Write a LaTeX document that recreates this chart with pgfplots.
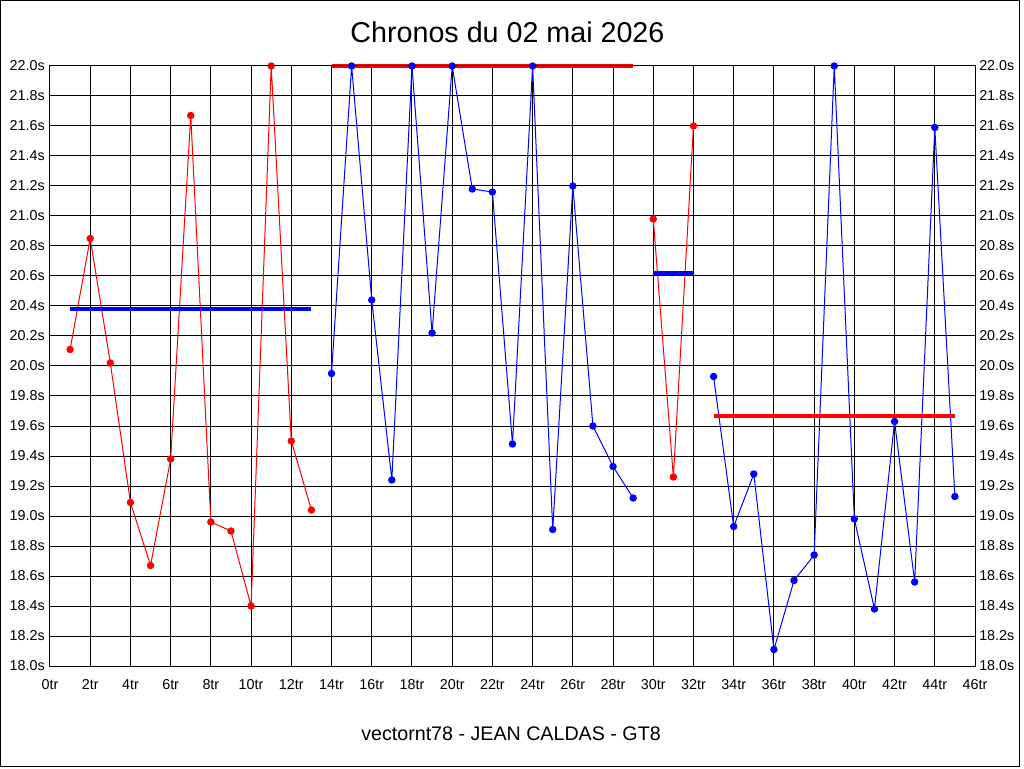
\documentclass[border=0pt]{standalone}
\usepackage{pgfplots}
\pgfplotsset{compat=1.18}
\usepackage{fontspec}
\setmainfont{Liberation Sans}
\definecolor{myred}{RGB}{255,0,0}
\definecolor{myblue}{RGB}{0,0,255}
\begin{document}
\begin{tikzpicture}
\useasboundingbox (-37.5pt,-76.5pt) rectangle (730.5pt,499.5pt);
\draw[black,line width=0.75pt] (-37.1pt,-75.4pt) rectangle (727.1pt,499.1pt);
\pgfplotsset{
  common/.style={
    scale only axis,
    width=693.75pt, height=450pt,
    xmin=0, xmax=46, ymin=18, ymax=22,
    xtick={0,2,...,46},
    ytick={18.0,18.2,...,22.01},
    yticklabels={18.0s,18.2s,18.4s,18.6s,18.8s,19.0s,19.2s,19.4s,19.6s,19.8s,20.0s,20.2s,20.4s,20.6s,20.8s,21.0s,21.2s,21.4s,21.6s,21.8s,22.0s},
    major tick length=0pt,
    tick style={draw=none},
    axis line style={black,line width=0.75pt},
    tick label style={font=\fontsize{10.75pt}{12pt}\selectfont, inner sep=0pt},
    clip=false,
  }
}
\begin{axis}[common,
    at={(0,0)}, anchor=south west,
    xticklabels={0tr,2tr,4tr,6tr,8tr,10tr,12tr,14tr,16tr,18tr,20tr,22tr,24tr,26tr,28tr,30tr,32tr,34tr,36tr,38tr,40tr,42tr,44tr,46tr},
    xticklabel style={anchor=north, yshift=-10pt},
    yticklabel style={anchor=east, xshift=-3.75pt},
    grid=major,
    major grid style={black,line width=0.75pt},
  ]
  % series 1
  \addplot[myred, line width=0.75pt, mark=*, mark size=2.4pt, mark options={fill=myred,draw=myred}] coordinates {
    (1,20.11)(2,20.85)(3,20.02)(4,19.09)(5,18.67)(6,19.38)(7,21.67)(8,18.96)(9,18.90)(10,18.40)(11,22.00)(12,19.50)(13,19.04)};
  % series 2
  \addplot[myblue, line width=0.75pt, mark=*, mark size=2.4pt, mark options={fill=myblue,draw=myblue}] coordinates {
    (14,19.95)(15,22.00)(16,20.44)(17,19.24)(18,22.00)(19,20.22)(20,22.00)(21,21.18)(22,21.16)(23,19.48)(24,22.00)(25,18.91)(26,21.20)(27,19.60)(28,19.33)(29,19.12)};
  % series 3
  \addplot[myred, line width=0.75pt, mark=*, mark size=2.4pt, mark options={fill=myred,draw=myred}] coordinates {
    (30,20.98)(31,19.26)(32,21.60)};
  % series 4
  \addplot[myblue, line width=0.75pt, mark=*, mark size=2.4pt, mark options={fill=myblue,draw=myblue}] coordinates {
    (33,19.93)(34,18.93)(35,19.28)(36,18.11)(37,18.57)(38,18.74)(39,22.00)(40,18.98)(41,18.38)(42,19.63)(43,18.56)(44,21.59)(45,19.13)};
  % averages
  \addplot[myblue, line width=3pt, no marks] coordinates {(1,20.38)(13,20.38)};
  \addplot[myred, line width=3pt, no marks] coordinates {(14,22.00)(29,22.00)};
  \addplot[myblue, line width=3pt, no marks] coordinates {(30,20.62)(32,20.62)};
  \addplot[myred, line width=3pt, no marks] coordinates {(33,19.67)(45,19.67)};
\end{axis}
\begin{axis}[common,
    at={(0,0)}, anchor=south west,
    xtick=\empty,
    yticklabel pos=right,
    yticklabel style={anchor=west, xshift=3pt},
  ]
\end{axis}
\node[anchor=base, font=\fontsize{21.5pt}{24pt}\selectfont, inner sep=0pt] at (343.1pt,467.5pt) {Chronos du 02 mai 2026};
\node[anchor=base, font=\fontsize{14.75pt}{17pt}\selectfont, inner sep=0pt] at (345.75pt,-55.5pt) {vectornt78 - JEAN CALDAS - GT8};
\end{tikzpicture}
\end{document}
